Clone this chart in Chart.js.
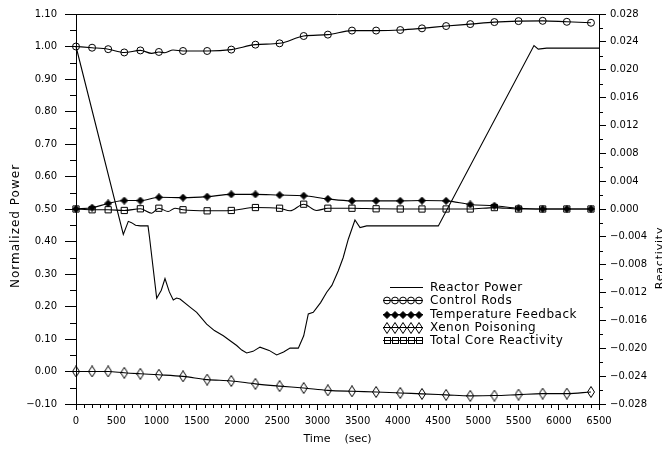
<!DOCTYPE html>
<html>
<head>
<meta charset="utf-8">
<script src="https://cdn.jsdelivr.net/npm/chart.js@4.4.0/dist/chart.umd.min.js"></script>
<style>
  html, body { margin: 0; padding: 0; background: #fff; }
  canvas { display: block; }
</style>
</head>
<body>
<canvas id="chart" width="662" height="449"></canvas>
<script>
// ---- data ----
// Reactor power (normalized, left axis)
const powerTime  = [0, 588, 650, 690, 740, 800, 895, 915, 1003, 1060, 1106, 1160, 1209, 1250, 1293, 1417, 1500, 1624, 1720, 1831, 1920, 1997, 2060, 2121, 2200, 2287, 2400, 2494, 2580, 2660, 2763, 2830, 2887, 2949, 3040, 3116, 3180, 3260, 3320, 3384, 3467, 3530, 3613, 3900, 4200, 4503, 5692, 5745, 5850, 6200, 6500];
const powerValue = [1.000, 0.422, 0.462, 0.458, 0.450, 0.448, 0.448, 0.410, 0.225, 0.250, 0.286, 0.245, 0.220, 0.226, 0.223, 0.198, 0.182, 0.146, 0.126, 0.110, 0.094, 0.080, 0.066, 0.057, 0.062, 0.075, 0.065, 0.051, 0.060, 0.072, 0.072, 0.110, 0.177, 0.182, 0.212, 0.244, 0.265, 0.310, 0.350, 0.407, 0.466, 0.443, 0.448, 0.448, 0.448, 0.448, 1.003, 0.992, 0.995, 0.995, 0.995];

// Reactivity components (right axis), sampled at the marker times
const markerTimes = [0, 200, 400, 600, 800, 1030, 1330, 1630, 1930, 2230, 2530, 2830, 3130, 3430, 3730, 4030, 4300, 4600, 4900, 5200, 5500, 5800, 6100, 6400];
const controlRods = [0.02333, 0.02316, 0.02295, 0.02248, 0.02277, 0.02255, 0.02269, 0.02269, 0.02289, 0.02360, 0.02379, 0.02484, 0.02504, 0.02562, 0.02562, 0.02570, 0.02594, 0.02627, 0.02655, 0.02684, 0.02698, 0.02702, 0.02688, 0.02674];
const tempFeedback = [0, 0.00019, 0.00079, 0.00121, 0.00121, 0.00168, 0.00163, 0.00177, 0.00210, 0.00210, 0.00200, 0.00191, 0.00145, 0.00117, 0.00117, 0.00117, 0.00121, 0.00117, 0.00065, 0.00047, 0.00010, 0, 0, 0];
const xenonPoisoning = [-0.02333, -0.02333, -0.02333, -0.02352, -0.02366, -0.02380, -0.02403, -0.02450, -0.02469, -0.02511, -0.02543, -0.02571, -0.02604, -0.02618, -0.02627, -0.02641, -0.02655, -0.02669, -0.02683, -0.02679, -0.02665, -0.02651, -0.02651, -0.02627];
const totalCore = [0, -0.00011, -0.00011, -0.00021, 0.00003, 0.00011, -0.00011, -0.00026, -0.00021, 0.00021, 0.00011, 0.00069, 0.00011, 0.00011, 0.00003, 0, 0, 0, 0, 0.00020, 0, 0, 0, 0];

// in-between samples (line only, no marker)
const controlRodsExtraTime  = [940, 1106, 1206];
const controlRodsExtraValue = [0.02235, 0.02244, 0.02283];
const totalCoreExtraTime  = [940, 1145, 1230, 2660, 2990];
const totalCoreExtraValue = [-0.00060, -0.00036, 0.00011, -0.00026, -0.00021];

// axis ticks
const timeTicks = [0, 500, 1000, 1500, 2000, 2500, 3000, 3500, 4000, 4500, 5000, 5500, 6000, 6500];
const powerTicks = [-0.10, 0.00, 0.10, 0.20, 0.30, 0.40, 0.50, 0.60, 0.70, 0.80, 0.90, 1.00, 1.10];
const reactivityTicks = [-0.028, -0.024, -0.020, -0.016, -0.012, -0.008, -0.004, 0.000, 0.004, 0.008, 0.012, 0.016, 0.020, 0.024, 0.028];

const legendLabels = ['Reactor Power', 'Control Rods', 'Temperature Feedback', 'Xenon Poisoning', 'Total Core Reactivity'];

// ---- helpers ----
function buildSeries(times, values, extraTimes, extraValues) {
  const pts = times.map((t, i) => ({ x: t, y: values[i], mark: true }));
  (extraTimes || []).forEach((t, i) => pts.push({ x: t, y: extraValues[i], mark: false }));
  pts.sort((a, b) => a.x - b.x);
  return pts;
}

function diamondImage(w, h, filled) {
  const c = document.createElement('canvas');
  c.width = w; c.height = h;
  const g = c.getContext('2d');
  g.beginPath();
  g.moveTo(w / 2, 0.5);
  g.lineTo(w - 0.5, h / 2);
  g.lineTo(w / 2, h - 0.5);
  g.lineTo(0.5, h / 2);
  g.closePath();
  if (filled) { g.fillStyle = '#000'; g.fill(); }
  g.strokeStyle = '#000';
  g.lineWidth = 1;
  g.stroke();
  return c;
}

const filledDiamond = diamondImage(8, 8, true);
const openDiamond = diamondImage(8, 12, false);

const minus = s => s.replace('-', '\u2212');
const FONT = 'DejaVu Sans';

function markedRadius(r) {
  return ctx => (ctx.raw && ctx.raw.mark) ? r : 0;
}

function verticalText(ctx, text, x, y, size, spacing) {
  ctx.save();
  ctx.fillStyle = '#000';
  ctx.font = size + 'px "' + FONT + '"';
  try { ctx.letterSpacing = spacing + 'px'; } catch (e) {}
  ctx.textAlign = 'center';
  ctx.textBaseline = 'middle';
  ctx.translate(x, y);
  ctx.rotate(-Math.PI / 2);
  ctx.fillText(text, 0, 0);
  ctx.restore();
}

// ---- plugins ----
const framePlugin = {
  id: 'frame',
  afterDraw(chart) {
    const { ctx, chartArea: a, scales } = chart;
    ctx.save();
    ctx.strokeStyle = '#000';
    ctx.lineWidth = 1;
    ctx.beginPath();
    // top edge of the frame
    ctx.moveTo(a.left, Math.round(a.top) + 0.5);
    ctx.lineTo(a.right, Math.round(a.top) + 0.5);
    // minor ticks on the time axis
    const xs = scales.x;
    for (let t = 100; t < 6500; t += 100) {
      if (t % 500 === 0) continue;
      const px = Math.round(xs.getPixelForValue(t)) + 0.5;
      ctx.moveTo(px, a.bottom);
      ctx.lineTo(px, a.bottom + 4);
    }
    // minor ticks on the power axis
    const ys = scales.y;
    for (let k = 0; k < 12; k++) {
      const v = -0.05 + k * 0.1;
      const py = Math.round(ys.getPixelForValue(v)) + 0.5;
      ctx.moveTo(a.left - 6, py);
      ctx.lineTo(a.left, py);
    }
    // minor ticks on the reactivity axis
    const rs = scales.y2;
    for (let k = 0; k < 14; k++) {
      const v = -0.026 + k * 0.004;
      const py = Math.round(rs.getPixelForValue(v)) + 0.5;
      ctx.moveTo(a.right, py);
      ctx.lineTo(a.right + 4, py);
    }
    ctx.stroke();
    ctx.restore();

    // axis titles, reading upward
    verticalText(ctx, 'Normalized Power', 16, 226, 12, 1);
    verticalText(ctx, 'Reactivity', 660, 258, 11, 0.8);
  }
};

const legendPlugin = {
  id: 'sampleLegend',
  afterDraw(chart) {
    const { ctx } = chart;
    const x0 = 383, x1 = 423, textX = 430, rowY = 287, rowStep = 13.3;
    ctx.save();
    ctx.strokeStyle = '#000';
    ctx.fillStyle = '#000';
    ctx.lineWidth = 1;
    ctx.font = '12px "' + FONT + '"';
    ctx.textBaseline = 'middle';
    ctx.textAlign = 'left';
    try { ctx.letterSpacing = '0.5px'; } catch (e) {}
    chart.data.datasets.forEach((ds, i) => {
      const y = Math.round(rowY + i * rowStep) + 0.5;
      ctx.beginPath();
      ctx.moveTo(i === 0 ? x0 + 7 : x0, y);
      ctx.lineTo(x1, y);
      ctx.stroke();
      if (i > 0) {
        for (let k = 0; k < 5; k++) {
          const mx = x0 + 4 + k * 8;
          const st = ds.pointStyle;
          if (st === 'circle') {
            ctx.beginPath();
            ctx.arc(mx, y, 3.4, 0, Math.PI * 2);
            ctx.stroke();
          } else if (st === 'rect') {
            ctx.strokeRect(Math.round(mx - 3) + 0.5, Math.round(y - 3) - 0.5, 6, 6);
          } else {
            ctx.drawImage(st, Math.round(mx - st.width / 2), Math.round(y - st.height / 2));
          }
        }
      }
      ctx.fillText(ds.label, textX, y + 0.5);
    });
    ctx.restore();
  }
};

// ---- chart ----
const lineBase = {
  borderColor: '#000',
  borderWidth: 1.1,
  pointBorderColor: '#000',
  pointBorderWidth: 1,
  pointHoverRadius: 0,
  cubicInterpolationMode: 'monotone',
  clip: false,
  fill: false
};

new Chart(document.getElementById('chart'), {
  type: 'line',
  data: {
    datasets: [
      Object.assign({}, lineBase, {
        label: legendLabels[0],
        data: powerTime.map((t, i) => ({ x: t, y: powerValue[i] })),
        yAxisID: 'y',
        cubicInterpolationMode: 'default',
        tension: 0,
        pointRadius: 0
      }),
      Object.assign({}, lineBase, {
        label: legendLabels[1],
        data: buildSeries(markerTimes, controlRods, controlRodsExtraTime, controlRodsExtraValue),
        yAxisID: 'y2',
        pointStyle: 'circle',
        pointRadius: markedRadius(3.5),
        pointBackgroundColor: 'rgba(0,0,0,0)'
      }),
      Object.assign({}, lineBase, {
        label: legendLabels[2],
        data: buildSeries(markerTimes, tempFeedback),
        yAxisID: 'y2',
        pointStyle: filledDiamond,
        pointRadius: markedRadius(4)
      }),
      Object.assign({}, lineBase, {
        label: legendLabels[3],
        data: buildSeries(markerTimes, xenonPoisoning),
        yAxisID: 'y2',
        pointStyle: openDiamond,
        pointRadius: markedRadius(4)
      }),
      Object.assign({}, lineBase, {
        label: legendLabels[4],
        data: buildSeries(markerTimes, totalCore, totalCoreExtraTime, totalCoreExtraValue),
        yAxisID: 'y2',
        pointStyle: 'rect',
        pointRadius: markedRadius(4.4),
        pointBackgroundColor: 'rgba(0,0,0,0)'
      })
    ]
  },
  options: {
    responsive: false,
    animation: false,
    devicePixelRatio: 1,
    layout: { padding: { top: 14, left: 0, right: 0, bottom: 0 } },
    plugins: { legend: { display: false }, tooltip: { enabled: false } },
    scales: {
      x: {
        type: 'linear',
        min: timeTicks[0],
        max: timeTicks[timeTicks.length - 1],
        afterFit: s => { s.height = 45; },
        afterBuildTicks: s => { s.ticks = timeTicks.map(v => ({ value: v })); },
        border: { display: true, color: '#000', width: 1 },
        grid: { display: true, drawOnChartArea: false, drawTicks: true, tickLength: 6, tickColor: '#000', color: '#000' },
        ticks: { color: '#000', font: { family: FONT, size: 10 }, padding: 5, maxRotation: 0, autoSkip: false,
                 callback: v => String(v) },
        title: { display: true, text: 'Time    (sec)', color: '#000', font: { family: FONT, size: 11 }, padding: { top: 0, bottom: 3 } }
      },
      y: {
        type: 'linear',
        position: 'left',
        min: powerTicks[0],
        max: powerTicks[powerTicks.length - 1],
        afterFit: s => { s.width = 76; },
        afterBuildTicks: s => { s.ticks = powerTicks.map(v => ({ value: v })); },
        border: { display: true, color: '#000', width: 1 },
        grid: { display: true, drawOnChartArea: false, drawTicks: true, tickLength: 11, tickColor: '#000', color: '#000' },
        ticks: { color: '#000', font: { family: FONT, size: 10 }, padding: 8, autoSkip: false,
                 callback: v => minus(Number(v).toFixed(2)) }
      },
      y2: {
        type: 'linear',
        position: 'right',
        min: reactivityTicks[0],
        max: reactivityTicks[reactivityTicks.length - 1],
        afterFit: s => { s.width = 63; },
        afterBuildTicks: s => { s.ticks = reactivityTicks.map(v => ({ value: v })); },
        border: { display: true, color: '#000', width: 1 },
        grid: { display: true, drawOnChartArea: false, drawTicks: true, tickLength: 7, tickColor: '#000', color: '#000' },
        ticks: { color: '#000', font: { family: FONT, size: 10 }, padding: 4, autoSkip: false,
                 callback: v => minus((Math.abs(v) < 1e-9 ? 0 : Number(v)).toFixed(3)) }
      }
    }
  },
  plugins: [framePlugin, legendPlugin]
});
</script>
</body>
</html>
